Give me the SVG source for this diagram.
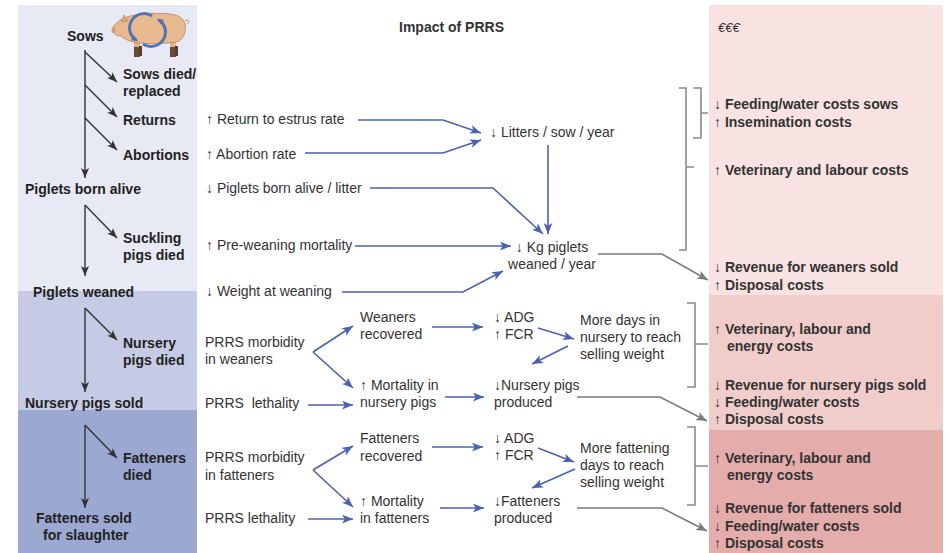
<svg xmlns="http://www.w3.org/2000/svg" width="951" height="553" viewBox="0 0 951 553">
  <defs>
    <style>
      text { font-family: "Liberation Sans", Arial, sans-serif; font-size: 14px; }
      .stage { font-weight: bold; fill: #222; }
      .title { font-weight: bold; fill: #333; }
      .mid { fill: #333; }
      .cost { font-weight: bold; fill: #333; }
      .flow { fill: none; stroke: #333; stroke-width: 1.4; marker-end: url(#ah-dark); }
      .blue { fill: none; stroke: #4c62b0; stroke-width: 1.6; marker-end: url(#ah-blue); }
      .grey { fill: none; stroke: #7a7a7a; stroke-width: 1.5; marker-end: url(#ah-grey); }
      .brace { fill: none; stroke: #8a8a8a; stroke-width: 1.6; }
    </style>
    <marker id="ah-dark" viewBox="0 0 10 8" refX="10" refY="4" markerWidth="10" markerHeight="8" markerUnits="userSpaceOnUse" orient="auto">
      <path d="M0,0 L10,4 L0,8 L2.5,4 z" fill="#333"/>
    </marker>
    <marker id="ah-blue" viewBox="0 0 10 8" refX="10" refY="4" markerWidth="11" markerHeight="9" markerUnits="userSpaceOnUse" orient="auto">
      <path d="M0,0 L10,4 L0,8 L2.5,4 z" fill="#4c62b0"/>
    </marker>
    <marker id="ah-grey" viewBox="0 0 10 8" refX="10" refY="4" markerWidth="11" markerHeight="9" markerUnits="userSpaceOnUse" orient="auto">
      <path d="M0,0 L10,4 L0,8 L2.5,4 z" fill="#7a7a7a"/>
    </marker>
    <marker id="ah-cycle" viewBox="0 0 10 8" refX="6" refY="4" markerWidth="7" markerHeight="6" markerUnits="userSpaceOnUse" orient="auto">
      <path d="M0,0 L10,4 L0,8 z" fill="#5572b8"/>
    </marker>
  </defs>

  <rect width="951" height="553" fill="#ffffff"/>

  <!-- production stage bands -->
  <g id="bands">
    <rect x="18" y="5" width="179" height="286" fill="#e7e9f4"/>
    <rect x="18" y="291" width="179" height="119" fill="#c6cbe5"/>
    <rect x="18" y="410" width="179" height="143" fill="#9aa8d2"/>
    <rect x="709" y="5" width="234" height="290" fill="#f8e3e2"/>
    <rect x="709" y="295" width="234" height="135" fill="#f0cdca"/>
    <rect x="709" y="430" width="234" height="123" fill="#e4acaa"/>
  </g>

  <!-- sow illustration -->
  <g id="pig">
    <rect x="134" y="38" width="6" height="19" fill="#e3b088"/>
    <rect x="170" y="38" width="6" height="19" fill="#e3b088"/>
    <rect x="134" y="47" width="6" height="10" fill="#6b4a33"/>
    <rect x="170" y="47" width="6" height="10" fill="#6b4a33"/>
    <rect x="139" y="46" width="3" height="10" fill="#5a3d2a"/>
    <rect x="175" y="46" width="3" height="10" fill="#5a3d2a"/>
    <path d="M118,22 C126,14 150,12 170,14 C182,15 187,22 185,31 C184,37 181,41 176,42 C162,44 150,44 140,43 C130,42 124,39 121,36 C117,36 113,34 113,31 C112,27 115,24 118,22 Z" fill="#e8b98f" stroke="#b48760" stroke-width="0.8"/>
    <path d="M121,22 L124,15 L128,21 Z" fill="#dca57a" stroke="#b48760" stroke-width="0.6"/>
    <ellipse cx="113.5" cy="30" rx="2" ry="3" fill="#d49a72"/>
    <path d="M185,21 C189,18 190,23 187,24" fill="none" stroke="#b48760" stroke-width="0.9"/>
    <path d="M152,16 A14,14 0 0 0 136,40" fill="none" stroke="#5572b8" stroke-width="3" marker-end="url(#ah-cycle)"/>
    <path d="M143,44 A14,14 0 0 0 159,20" fill="none" stroke="#5572b8" stroke-width="3" marker-end="url(#ah-cycle)"/>
  </g>

  <!-- stage labels -->
  <g id="stages">
    <text class="stage" x="67" y="41">Sows</text>
    <text class="stage" x="123" y="79">Sows died/</text>
    <text class="stage" x="123" y="96">replaced</text>
    <text class="stage" x="123" y="125">Returns</text>
    <text class="stage" x="123" y="160">Abortions</text>
    <text class="stage" x="25" y="194">Piglets born alive</text>
    <text class="stage" x="123" y="243">Suckling</text>
    <text class="stage" x="123" y="260">pigs died</text>
    <text class="stage" x="33" y="297">Piglets weaned</text>
    <text class="stage" x="123" y="348">Nursery</text>
    <text class="stage" x="123" y="365">pigs died</text>
    <text class="stage" x="25" y="408">Nursery pigs sold</text>
    <text class="stage" x="123" y="463">Fatteners</text>
    <text class="stage" x="123" y="480">died</text>
    <text class="stage" x="36" y="523">Fatteners sold</text>
    <text class="stage" x="43" y="540">for slaughter</text>
  </g>

  <text id="title" class="title" x="399" y="32">Impact of PRRS</text>

  <!-- reproduction impacts -->
  <g id="breeding">
    <text class="mid" x="206" y="124">↑ Return to estrus rate</text>
    <text class="mid" x="206" y="159">↑ Abortion rate</text>
    <text class="mid" x="490" y="137">↓ Litters / sow / year</text>
    <text class="mid" x="206" y="193">↓ Piglets born alive / litter</text>
    <text class="mid" x="206" y="250">↑ Pre-weaning mortality</text>
    <text class="mid" x="552" y="252" text-anchor="middle">↓ Kg piglets</text>
    <text class="mid" x="552" y="269" text-anchor="middle">weaned / year</text>
    <text class="mid" x="206" y="296">↓ Weight at weaning</text>
  </g>

  <!-- nursery impacts -->
  <g id="nursery">
    <text class="mid" x="205" y="347">PRRS morbidity</text>
    <text class="mid" x="205" y="364">in weaners</text>
    <text class="mid" x="360" y="322">Weaners</text>
    <text class="mid" x="360" y="339">recovered</text>
    <text class="mid" x="494" y="322">↓ ADG</text>
    <text class="mid" x="494" y="339">↑ FCR</text>
    <text class="mid" x="580" y="325">More days in</text>
    <text class="mid" x="580" y="342">nursery to reach</text>
    <text class="mid" x="580" y="359">selling weight</text>
    <text class="mid" x="360" y="390">↑ Mortality in</text>
    <text class="mid" x="360" y="407">nursery pigs</text>
    <text class="mid" x="494" y="390">↓Nursery pigs</text>
    <text class="mid" x="494" y="407">produced</text>
    <text class="mid" x="205" y="408" style="white-space:pre">PRRS  lethality</text>
  </g>

  <!-- fattening impacts -->
  <g id="fattening">
    <text class="mid" x="205" y="462">PRRS morbidity</text>
    <text class="mid" x="205" y="480">in fatteners</text>
    <text class="mid" x="360" y="443">Fatteners</text>
    <text class="mid" x="360" y="461">recovered</text>
    <text class="mid" x="494" y="443">↓ ADG</text>
    <text class="mid" x="494" y="460">↑ FCR</text>
    <text class="mid" x="580" y="453">More fattening</text>
    <text class="mid" x="580" y="470">days to reach</text>
    <text class="mid" x="580" y="487">selling weight</text>
    <text class="mid" x="360" y="506">↑ Mortality</text>
    <text class="mid" x="360" y="523">in fatteners</text>
    <text class="mid" x="494" y="506">↓Fatteners</text>
    <text class="mid" x="494" y="523">produced</text>
    <text class="mid" x="205" y="523">PRRS lethality</text>
  </g>

  <!-- economic consequences -->
  <g id="costs">
    <text class="mid" x="718" y="32" style="font-size:13px;font-style:italic">€€€</text>
    <text class="cost" x="714" y="109">↓ Feeding/water costs sows</text>
    <text class="cost" x="714" y="127">↑ Insemination costs</text>
    <text class="cost" x="714" y="175">↑ Veterinary and labour costs</text>
    <text class="cost" x="714" y="272">↓ Revenue for weaners sold</text>
    <text class="cost" x="714" y="290">↑ Disposal costs</text>
    <text class="cost" x="714" y="334">↑ Veterinary, labour and</text>
    <text class="cost" x="727" y="351">energy costs</text>
    <text class="cost" x="714" y="390">↓ Revenue for nursery pigs sold</text>
    <text class="cost" x="714" y="407">↓ Feeding/water costs</text>
    <text class="cost" x="714" y="424">↑ Disposal costs</text>
    <text class="cost" x="714" y="463">↑ Veterinary, labour and</text>
    <text class="cost" x="727" y="480">energy costs</text>
    <text class="cost" x="714" y="513">↓ Revenue for fatteners sold</text>
    <text class="cost" x="714" y="531">↓ Feeding/water costs</text>
    <text class="cost" x="714" y="548">↑ Disposal costs</text>
  </g>

  <g id="connectors">
    <!-- herd flow -->
    <path class="flow" d="M85,50 V178"/>
    <path class="flow" d="M85,52 L117,82"/>
    <path class="flow" d="M85,85 L117,117"/>
    <path class="flow" d="M85,118 L117,150"/>
    <path class="flow" d="M85,205 V276"/>
    <path class="flow" d="M85,205 L117,238"/>
    <path class="flow" d="M85,308 V392"/>
    <path class="flow" d="M85,308 L117,340"/>
    <path class="flow" d="M85,425 V508"/>
    <path class="flow" d="M85,425 L117,458"/>

    <!-- breeding effects -->
    <path class="blue" d="M358,120 H443 L481,133"/>
    <path class="blue" d="M305,153 H443 L481,140"/>
    <path class="blue" d="M548,145 V234"/>
    <path class="blue" d="M370,188 H493 L543,234"/>
    <path class="blue" d="M355,246 H511"/>
    <path class="blue" d="M342,292 H463 L503,271"/>

    <!-- nursery effects -->
    <path class="blue" d="M313,352 L353,326"/>
    <path class="blue" d="M313,352 L353,388"/>
    <path class="blue" d="M308,405 H353"/>
    <path class="blue" d="M432,327 H483"/>
    <path class="blue" d="M538,328 L574,339"/>
    <path class="blue" d="M568,346 L532,364"/>
    <path class="blue" d="M445,397 H484"/>

    <!-- fattening effects -->
    <path class="blue" d="M313,470 L353,446"/>
    <path class="blue" d="M313,470 L353,507"/>
    <path class="blue" d="M308,519 H353"/>
    <path class="blue" d="M432,447 H483"/>
    <path class="blue" d="M538,448 L574,462"/>
    <path class="blue" d="M575,469 L532,488"/>
    <path class="blue" d="M440,508 H484"/>

    <!-- outputs to revenue and disposal -->
    <path class="grey" d="M598,254 H662 L708,280"/>
    <path class="grey" d="M577,397 H660 L707,421"/>
    <path class="grey" d="M577,508 H662 L707,531"/>

    <!-- grouping brackets -->
    <path class="brace" d="M679,88 H686 V250 H679 M686,167 H694"/>
    <path class="brace" d="M693,88 H701 V138 H693 M701,113 H708"/>
    <path class="brace" d="M687,303 H695 V387 H687 M695,344 H708"/>
    <path class="brace" d="M687,427 H695 V505 H687 M695,466 H708"/>
  </g>
</svg>
